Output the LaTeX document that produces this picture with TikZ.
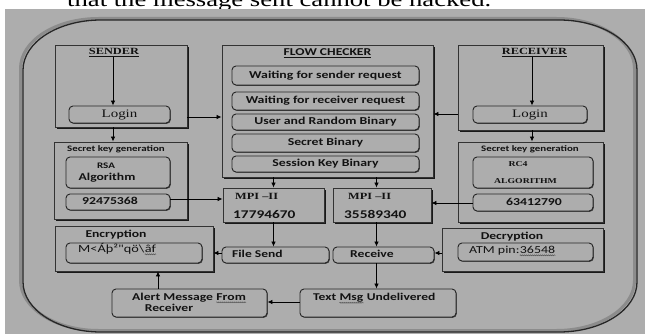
\documentclass[tikz,border=0pt]{standalone}
\usepackage{fontspec}
\setmainfont{Liberation Serif}
\newfontfamily\sfS[FakeStretch=1.3]{Carlito}
\newfontfamily\rmS[FakeStretch=1.3]{Liberation Serif}
\usetikzlibrary{arrows.meta,shadows,decorations.pathmorphing}
\definecolor{paper}{RGB}{173,173,173}
\definecolor{ink}{RGB}{18,18,18}
\newcommand\setfs[1]{\fontsize{#1}{#1}\selectfont}
\begin{document}
\begin{tikzpicture}[x=1pt,y=-1pt,
  sz/.style 2 args={minimum width=#1pt,minimum height=#2pt},
  panel/.style={draw=black!80,line width=0.9pt,fill=paper,inner sep=0pt,
    general shadow={fill=black!90,shadow xshift=2pt,shadow yshift=-2pt}},
  item/.style={draw=black!85,line width=0.9pt,fill=paper,rounded corners=4pt,inner sep=0pt,text=ink,
    general shadow={fill=black!75,shadow xshift=0.8pt,shadow yshift=-0.8pt}},
  txt/.style={inner sep=0pt,text=ink},
  flowtxt/.style={font=\sfS\bfseries\setfs{10.6}},
  bold/.style={font=\sfS\bfseries\setfs{#1}},
  plain/.style={font=\sfS\setfs{#1}},
  arr/.style={draw=black,line width=0.8pt,-{Latex[length=5pt,width=4.5pt]}},
  squig/.style={draw=black!70,line width=0.45pt,decorate,
    decoration={snake,amplitude=0.5pt,segment length=2pt}},
  glow/.style={draw=black!45,line width=3pt},
  rim/.style={draw=black!85,line width=1.3pt}]
\useasboundingbox (0,0) rectangle (645,334);
\fill[white] (0,0) rectangle (645,334);

% caption line above the figure, cut by the top edge
\node[inner sep=0pt,anchor=base west,font=\rmS\setfs{20.5}] (caption) at (67,7)
  {that the message sent cannot be hacked.};
\fill[paper] (5,9.5) rectangle (645,334);

% rounded outer frame with a soft edge on the upper left
\draw[glow,shift={(-2.5,-1.5)}] (101,20) -- (559,20) .. controls (602.1,20) and (637,42.4) .. (637,70)
  -- (637,282) .. controls (637,309.6) and (602.1,332) .. (559,332) -- (101,332)
  .. controls (57.9,332) and (23,309.6) .. (23,282) -- (23,70)
  .. controls (23,42.4) and (57.9,20) .. (101,20) -- cycle;
\draw[rim] (101,20) -- (559,20) .. controls (602.1,20) and (637,42.4) .. (637,70)
  -- (637,282) .. controls (637,309.6) and (602.1,332) .. (559,332) -- (101,332)
  .. controls (57.9,332) and (23,309.6) .. (23,282) -- (23,70)
  .. controls (23,42.4) and (57.9,20) .. (101,20) -- cycle;

% square panels
\node[panel,sz={132}{82}]  (sender)   at (121,86) {};
\node[panel,sz={211}{132}] (flowchk)  at (327.5,111) {};
\node[panel,sz={145}{85}]  (receiver) at (530.5,87.5) {};
\node[panel,sz={133}{77}]  (skgS)     at (120.5,180.5) {};
\node[panel,sz={145}{80}]  (skgR)     at (530.5,182) {};
\node[panel,sz={101}{34}]  (mpiL)     at (273.5,205) {};
\node[panel,sz={98}{34}]   (mpiR)     at (382,205) {};
\node[panel,sz={158}{45}]  (enc)      at (134,248.5) {};
\node[panel,sz={161}{43}]  (dec)      at (522.5,249.5) {};

% panel titles
\node[txt,anchor=mid,font=\rmS\bfseries\setfs{9.5}] (sndT) at (114,52) {\underline{SENDER}};
\node[txt,anchor=mid,bold=10.5] (flwT) at (327.5,53) {\underline{FLOW CHECKER}};
\node[txt,anchor=mid,font=\rmS\bfseries\setfs{9.5}] (rcvT) at (534.5,52) {\underline{RECEIVER}};
\node[txt,anchor=mid,bold=8.4] (skgSt) at (116,149) {Secret key generation};
\node[txt,anchor=mid,bold=8.4] (skgRt) at (530,149) {Secret key generation};
\node[txt,anchor=mid,bold=10.5] (encT) at (116,235) {Encryption};
\node[txt,anchor=mid,bold=10.5] (decT) at (512,237) {Decryption};

% rounded boxes
\node[item,sz={101}{17},font=\rmS\setfs{11.5}] (loginS) at (119.5,114.5) {Login};
\node[item,sz={114}{17},font=\rmS\setfs{11.5}] (loginR) at (530,114.5) {Login};
\node[item,sz={187}{19},flowtxt] (w1) at (325.5,75.5) {Waiting for sender request};
\node[item,sz={187}{18},flowtxt] (w2) at (325.5,101) {Waiting for receiver request};
\node[item,sz={187}{16},flowtxt] (w3) at (325.5,122) {User and Random Binary};
\node[item,sz={187}{18},flowtxt] (w4) at (325.5,143) {Secret Binary};
\node[item,sz={187}{16},flowtxt] (w5) at (325.5,164) {Session Key Binary};
\node[item,sz={104}{31}] (rsa)  at (118,172.5) {};
\node[item,sz={104}{16}] (keyS) at (118,202) {};
\node[item,sz={120}{31}] (rc4)  at (533,172.5) {};
\node[item,sz={120}{17}] (keyR) at (533,202.5) {};
\node[item,sz={136}{20}] (msgbox) at (134,253) {};
\node[item,sz={107}{16}] (fsend)  at (275.5,255) {};
\node[item,sz={101}{16}] (recv)   at (383.5,255) {};
\node[item,sz={135}{18}] (atm)    at (525.5,252) {};
\node[item,sz={156}{28}] (txtmsg) at (378,303) {};
\node[item,sz={155}{28}] (alert)  at (189.5,303) {};

% box contents
\node[txt,anchor=mid,bold=8.5]  (rsaA) at (106,166) {RSA};
\node[txt,anchor=mid,bold=10.5] (rsaB) at (107,178) {Algorithm};
\node[txt,anchor=mid,bold=10.6] (keySt) at (110,202) {92475368};
\node[txt,anchor=mid,font=\rmS\bfseries\setfs{7.5}] (rc4A) at (518,164) {RC4};
\node[txt,anchor=mid,font=\rmS\bfseries\setfs{7.5}] (rc4B) at (525.5,181) {ALGORITHM};
\node[txt,anchor=mid,bold=10.6] (keyRt) at (534,203) {63412790};
\node[txt,anchor=mid west,font=\rmS\bfseries\setfs{9.5}] (mpiLa) at (235,197) {MPI –II};
\node[txt,anchor=mid west,bold=11.8] (mpiLb) at (233,216) {17794670};
\node[txt,anchor=mid west,font=\rmS\bfseries\setfs{9.5}] (mpiRa) at (348,197) {MPI –II};
\node[txt,anchor=mid west,bold=11.8] (mpiRb) at (344,216) {35589340};
\node[txt,anchor=mid west,plain=11] (msgA) at (78,250) {M<Áþ²"qö\textbackslash};
\node[txt,anchor=base west,plain=11] (msgB) at (msgA.base east) {âf};
\node[txt,anchor=mid west,bold=10.4] (fsendT) at (232,255) {File Send};
\node[txt,anchor=mid west,bold=10.5] (recvT) at (350,255) {Receive};
\node[txt,anchor=mid west,plain=10.7] (atmA) at (469,251) {ATM pin:};
\node[txt,anchor=base west,plain=10.7] (atmB) at (atmA.base east) {36548};
\node[txt,anchor=mid west,bold=10.4] (tmA) at (313,298) {Text\ \mbox{}};
\node[txt,anchor=base west,bold=10.4] (tmB) at (tmA.base east) {Msg};
\node[txt,anchor=base west,bold=10.4] (tmC) at (tmB.base east) {\mbox{}\ Undelivered};
\node[txt,anchor=mid west,bold=10.5] (alA) at (132,298) {Alert Message\ \mbox{}};
\node[txt,anchor=base west,bold=10.5] (alB) at (alA.base east) {From};
\node[txt,anchor=mid,bold=10.5] (alC) at (169,309) {Receiver};

% spell-check marks under some words
\draw[squig] ([yshift=-2pt]msgB.base west) -- ([yshift=-2pt]msgB.base east);
\draw[squig] ([yshift=-2pt]atmB.base west) -- ([yshift=-2pt]atmB.base east);
\draw[squig] ([yshift=-2.5pt]tmB.base west) -- ([yshift=-2.5pt]tmB.base east);
\draw[squig] ([yshift=-2pt]alB.base west) -- ([yshift=-2pt]alB.base east);

% guide lines for the connectors
\coordinate (gxS) at (113,0);
\coordinate (gxR) at (532,0);
\coordinate (gxL) at (273.5,0);
\coordinate (gxM) at (376.5,0);
\coordinate (gxA) at (158,0);
\coordinate (gyS) at (0,117);
\coordinate (gyR) at (0,114);
\coordinate (gyK) at (0,199);
\coordinate (gyQ) at (0,203);
\coordinate (gyB) at (0,253);
\coordinate (gyT) at (0,302);

% connectors
\draw[arr] (sndT.south -| gxS) -- (loginS.north -| gxS);
\draw[arr] (rcvT.south -| gxR) -- (loginR.north -| gxR);
\draw[arr] (sender.south -| gxS) -- (skgS.north -| gxS);
\draw[arr] (receiver.south -| gxR) -- (skgR.north -| gxR);
\draw[arr] (sender.east |- gyS) -- (flowchk.west |- gyS);
\draw[arr] (receiver.west |- gyR) -- (flowchk.east |- gyR);
\draw[arr] (flowchk.south -| gxL) -- (mpiL.north -| gxL);
\draw[arr] (flowchk.south -| gxM) -- (mpiR.north -| gxM);
\draw[arr] (keyS.east |- gyK) -- (mpiL.west |- gyK);
\draw[arr] (keyR.west |- gyQ) -- (mpiR.east |- gyQ);
\draw[arr] (mpiL.south -| gxL) -- (fsend.north -| gxL);
\draw[arr] (mpiR.south -| gxM) -- (recv.north -| gxM);
\draw[arr] (fsend.west |- gyB) -- (enc.east |- gyB);
\draw[arr] (dec.west |- gyB) -- (recv.east |- gyB);
\draw[arr] (recv.south -| gxM) -- (txtmsg.north -| gxM);
\draw[arr] (txtmsg.west |- gyT) -- (alert.east |- gyT);
\draw[arr] (alert.north -| gxA) -- (enc.south -| gxA);
\end{tikzpicture}
\end{document}
